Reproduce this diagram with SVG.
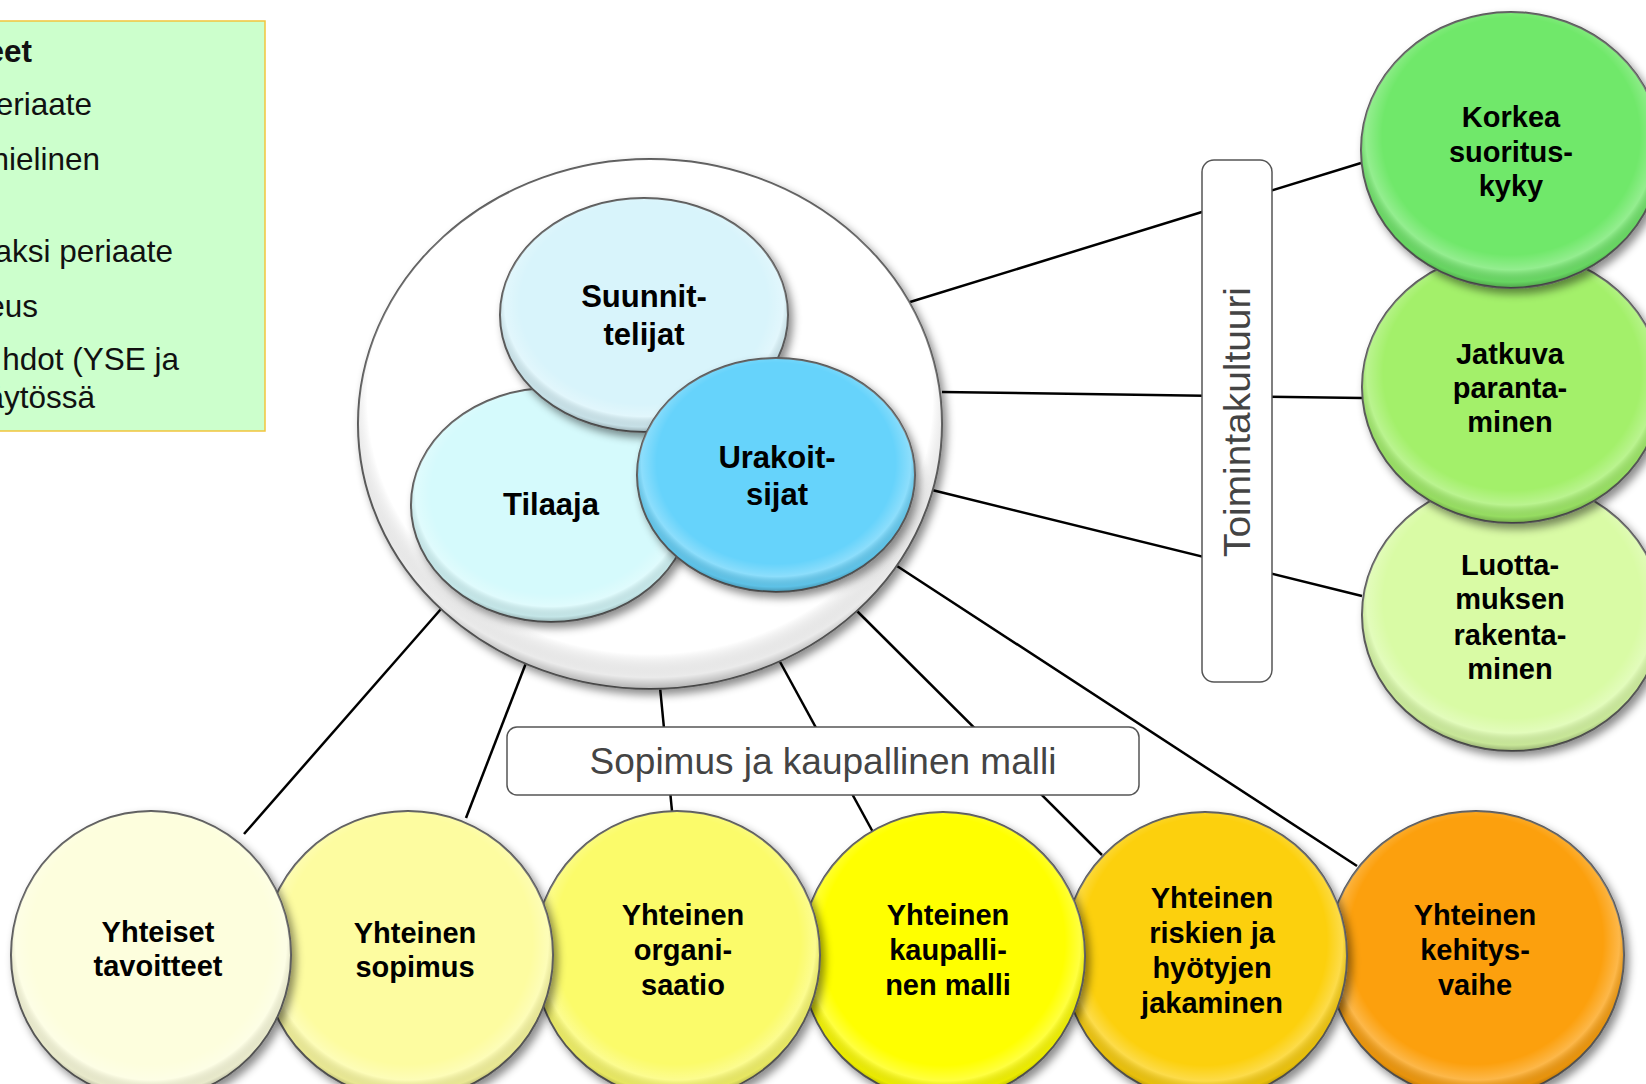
<svg xmlns="http://www.w3.org/2000/svg" width="1646" height="1084" viewBox="0 0 1646 1084">
<defs>
<filter id="sh" x="-20%" y="-20%" width="140%" height="140%">
<feDropShadow dx="4" dy="5" stdDeviation="4" flood-color="#000" flood-opacity="0.45"/>
</filter>
<radialGradient id="bevel" cx="50%" cy="45%" r="55%">
<stop offset="0" stop-color="#fff" stop-opacity="0"/>
<stop offset="0.78" stop-color="#fff" stop-opacity="0"/>
<stop offset="0.88" stop-color="#fff" stop-opacity="0.25"/>
<stop offset="0.96" stop-color="#000" stop-opacity="0.08"/>
<stop offset="1" stop-color="#000" stop-opacity="0.3"/>
</radialGradient>
<style>
.shape{stroke:#5a5a5a;stroke-width:2;filter:url(#sh)}
.bev{fill:url(#bevel);stroke:none}
.lbl{font-family:"Liberation Sans",Arial,sans-serif;font-weight:bold;fill:#000;text-anchor:middle}
.c32{font-size:31px}
.c29{font-size:29px}
.conn{stroke:#000;stroke-width:2.5;fill:none}
.box{fill:#fff;stroke:#555;stroke-width:1.5}
.boxt{font-family:"Liberation Sans",Arial,sans-serif;fill:#444;text-anchor:middle}
.leg{font-family:"Liberation Sans",Arial,sans-serif;font-size:31.5px;fill:#111;text-anchor:end}
</style>
</defs>
<rect width="1646" height="1084" fill="#fff"/>

<g id="connectors">
<line class="conn" x1="910" y1="302" x2="1361" y2="163"/>
<line class="conn" x1="942" y1="392" x2="1362" y2="398"/>
<line class="conn" x1="932" y1="490" x2="1362" y2="596"/>
<line class="conn" x1="897" y1="566" x2="1357" y2="866"/>
<line class="conn" x1="441" y1="609" x2="244" y2="834"/>
<line class="conn" x1="526" y1="663" x2="466" y2="818"/>
<line class="conn" x1="660" y1="687" x2="672" y2="811"/>
<line class="conn" x1="779" y1="660" x2="874" y2="834"/>
<line class="conn" x1="856" y1="610" x2="1102" y2="855"/>
</g>

<g id="outer">
<ellipse class="shape" cx="650" cy="424" rx="292" ry="265" fill="#fff"/>
<ellipse class="bev" cx="650" cy="424" rx="292" ry="265"/>
</g>

<g id="tilaaja">
<ellipse class="shape" cx="551" cy="505" rx="140" ry="117" fill="#d5fafc"/>
<ellipse class="bev" cx="551" cy="505" rx="140" ry="117"/>
<text class="lbl c32" x="551" y="515">Tilaaja</text>
</g>
<g id="suunnittelijat">
<ellipse class="shape" cx="644" cy="315" rx="144" ry="117" fill="#d8f4fb"/>
<ellipse class="bev" cx="644" cy="315" rx="144" ry="117"/>
<text class="lbl c32" x="644" y="307">Suunnit-</text>
<text class="lbl c32" x="644" y="345">telijat</text>
</g>
<g id="urakoitsijat">
<ellipse class="shape" cx="776" cy="475" rx="139" ry="117" fill="#66d3fb"/>
<ellipse class="bev" cx="776" cy="475" rx="139" ry="117"/>
<text class="lbl c32" x="777" y="468">Urakoit-</text>
<text class="lbl c32" x="777" y="505">sijat</text>
</g>

<g id="luottamuksen">
<ellipse class="shape" cx="1512" cy="615" rx="150" ry="136" fill="#d9fba5"/>
<ellipse class="bev" cx="1512" cy="615" rx="150" ry="136"/>
<text class="lbl c29" x="1510" y="575">Luotta-</text>
<text class="lbl c29" x="1510" y="609">muksen</text>
<text class="lbl c29" x="1510" y="645">rakenta-</text>
<text class="lbl c29" x="1510" y="679">minen</text>
</g>
<g id="jatkuva">
<ellipse class="shape" cx="1512" cy="387" rx="150" ry="136" fill="#a3f06b"/>
<ellipse class="bev" cx="1512" cy="387" rx="150" ry="136"/>
<text class="lbl c29" x="1510" y="364">Jatkuva</text>
<text class="lbl c29" x="1510" y="398">paranta-</text>
<text class="lbl c29" x="1510" y="432">minen</text>
</g>
<g id="korkea">
<ellipse class="shape" cx="1511" cy="150" rx="150" ry="138" fill="#6fe86a"/>
<ellipse class="bev" cx="1511" cy="150" rx="150" ry="138"/>
<text class="lbl c29" x="1511" y="127">Korkea</text>
<text class="lbl c29" x="1511" y="162">suoritus-</text>
<text class="lbl c29" x="1511" y="196">kyky</text>
</g>

<g id="kehitysvaihe">
<ellipse class="shape" cx="1476" cy="955" rx="148" ry="144" fill="#fca00c"/>
<ellipse class="bev" cx="1476" cy="955" rx="148" ry="144"/>
<text class="lbl c29" x="1475" y="925">Yhteinen</text>
<text class="lbl c29" x="1475" y="960">kehitys-</text>
<text class="lbl c29" x="1475" y="995">vaihe</text>
</g>
<g id="riskien">
<ellipse class="shape" cx="1205" cy="956" rx="142" ry="144" fill="#fcd00a"/>
<ellipse class="bev" cx="1205" cy="956" rx="142" ry="144"/>
<text class="lbl c29" x="1212" y="908">Yhteinen</text>
<text class="lbl c29" x="1212" y="943">riskien ja</text>
<text class="lbl c29" x="1212" y="978">hyötyjen</text>
<text class="lbl c29" x="1212" y="1013">jakaminen</text>
</g>
<g id="kaupallinen">
<ellipse class="shape" cx="943" cy="956" rx="142" ry="144" fill="#ffff00"/>
<ellipse class="bev" cx="943" cy="956" rx="142" ry="144"/>
<text class="lbl c29" x="948" y="925">Yhteinen</text>
<text class="lbl c29" x="948" y="960">kaupalli-</text>
<text class="lbl c29" x="948" y="995">nen malli</text>
</g>
<g id="organisaatio">
<ellipse class="shape" cx="677" cy="955" rx="143" ry="144" fill="#fbfb6a"/>
<ellipse class="bev" cx="677" cy="955" rx="143" ry="144"/>
<text class="lbl c29" x="683" y="925">Yhteinen</text>
<text class="lbl c29" x="683" y="960">organi-</text>
<text class="lbl c29" x="683" y="995">saatio</text>
</g>
<g id="sopimus">
<ellipse class="shape" cx="408" cy="955" rx="145" ry="144" fill="#fdfca0"/>
<ellipse class="bev" cx="408" cy="955" rx="145" ry="144"/>
<text class="lbl c29" x="415" y="943">Yhteinen</text>
<text class="lbl c29" x="415" y="977">sopimus</text>
</g>
<g id="yhteiset">
<ellipse class="shape" cx="151" cy="955" rx="140" ry="144" fill="#fdfedd"/>
<ellipse class="bev" cx="151" cy="955" rx="140" ry="144"/>
<text class="lbl c29" x="158" y="942">Yhteiset</text>
<text class="lbl c29" x="158" y="976">tavoitteet</text>
</g>

<g id="toimintakulttuuri">
<rect class="box" x="1202" y="160" width="70" height="522" rx="12"/>
<text class="boxt" transform="translate(1250,422) rotate(-90)" x="0" y="0" font-size="37" textLength="270" lengthAdjust="spacingAndGlyphs">Toimintakultuuri</text>
</g>
<g id="sopimusmalli">
<rect class="box" x="507" y="727" width="632" height="68" rx="10"/>
<text class="boxt" x="823" y="774" font-size="37">Sopimus ja kaupallinen malli</text>
</g>

<g id="legend">
<rect x="-2" y="21" width="267" height="410" fill="#ccffcc" stroke="#f2c53d" stroke-width="1.5"/>
<text class="leg" x="32" y="62" font-weight="bold">eet</text>
<text class="leg" x="92" y="115">eriaate</text>
<text class="leg" x="100" y="170">nielinen</text>
<text class="leg" x="173" y="262">aksi periaate</text>
<text class="leg" x="38" y="317">eus</text>
<text class="leg" x="179" y="370">hdot (YSE ja</text>
<text class="leg" x="95" y="408">äytössä</text>
</g>
</svg>
